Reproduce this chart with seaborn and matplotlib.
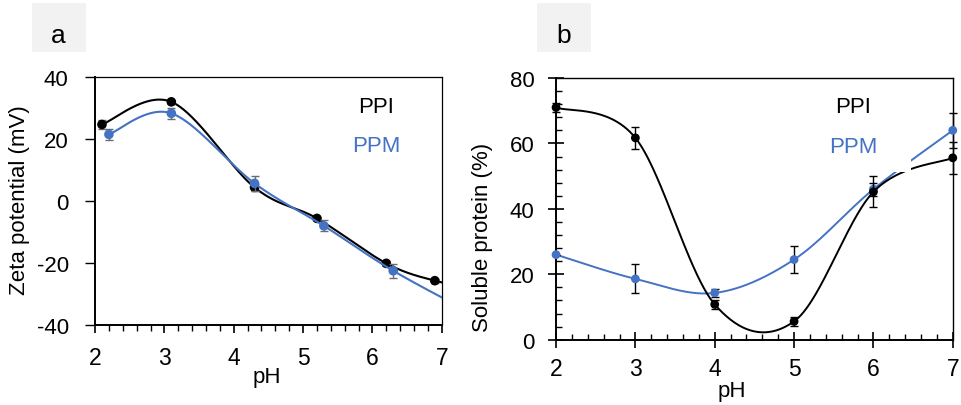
import numpy as np
import pandas as pd
import matplotlib
matplotlib.use("Agg")
import matplotlib.pyplot as plt
import seaborn as sns
from matplotlib.ticker import MultipleLocator
from matplotlib.patches import Rectangle

sns.set_theme(style="ticks")
plt.rcParams['font.family'] = ['Liberation Sans', 'DejaVu Sans']
plt.rcParams['axes.unicode_minus'] = False
plt.rcParams['text.color'] = 'black'
plt.rcParams['axes.labelcolor'] = 'black'
plt.rcParams['xtick.color'] = 'black'
plt.rcParams['ytick.color'] = 'black'
plt.rcParams['xtick.labelcolor'] = 'black'
plt.rcParams['ytick.labelcolor'] = 'black'

# ---------------- data ----------------
# Panel a: zeta potential vs pH
ph_ppi_a = [2.1, 3.1, 4.3, 5.2, 6.2, 6.9]
zeta_ppi = [24.7, 32.0, 4.4, -5.6, -20.1, -25.7]
zeta_ppi_err = [1.6, 0.7, 1.2, 0.6, 0.7, 0.6]
ph_ppm_a = [2.2, 3.1, 4.3, 5.3, 6.3]
zeta_ppm = [21.5, 28.3, 5.7, -8.0, -22.5]
zeta_ppm_err = [1.7, 1.8, 2.5, 1.8, 2.3]
# next measured points beyond the axis range (curve continues, clipped)
ph_ppi_a_next = [7.5]
zeta_ppi_next = [-28.0]
ph_ppm_a_next = [7.5]
zeta_ppm_next = [-37.0]

# Panel b: soluble protein vs pH
ph_b = [2, 3, 4, 5, 6, 7]
sol_ppi = [71.0, 61.7, 10.8, 5.6, 45.2, 55.6]
sol_ppi_err = [1.5, 3.4, 1.3, 1.4, 4.7, 4.9]
sol_ppm = [26.0, 18.6, 14.3, 24.5, 46.0, 64.0]
sol_ppm_err = [0.0, 4.4, 1.1, 4.2, 2.0, 5.4]

xticks = [2, 3, 4, 5, 6, 7]
yticks_a = [-40, -20, 0, 20, 40]
yticks_b = [0, 20, 40, 60, 80]

BLACK = "#000000"
BLUE = "#4472C4"
ERR_A = "#6b6b6b"


def excel_smooth(x, y, n=60):
    """Excel-style smoothed line (cubic Bezier, Catmull-Rom control points)."""
    P = np.column_stack([x, y]).astype(float)
    Pm = np.vstack([P[0], P, P[-1]])
    t = np.linspace(0, 1, n)[1:, None]
    out = [P[:1]]
    for i in range(len(P) - 1):
        p0, p3 = P[i], P[i + 1]
        c1 = p0 + (Pm[i + 2] - Pm[i]) / 6
        c2 = p3 - (Pm[i + 3] - Pm[i + 1]) / 6
        seg = (1 - t) ** 3 * p0 + 3 * (1 - t) ** 2 * t * c1 + 3 * (1 - t) * t ** 2 * c2 + t ** 3 * p3
        out.append(seg)
    arr = np.vstack(out)
    return pd.DataFrame({"pH": arr[:, 0], "v": arr[:, 1]})


fig = plt.figure(figsize=(9.62, 4.06), dpi=100)
axa = fig.add_axes([0.0988, 0.197, 0.3604, 0.6108])
axb = fig.add_axes([0.578, 0.1608, 0.4124, 0.6446])

# ---------------- panel a ----------------
df_ppi_a = excel_smooth(ph_ppi_a + ph_ppi_a_next, zeta_ppi + zeta_ppi_next)
df_ppm_a = excel_smooth(ph_ppm_a + ph_ppm_a_next, zeta_ppm + zeta_ppm_next)
sns.lineplot(data=df_ppi_a, x="pH", y="v", sort=False, estimator=None,
             color=BLACK, lw=1.5, ax=axa, zorder=2)
axa.errorbar(ph_ppi_a, zeta_ppi, yerr=zeta_ppi_err, fmt="none", ecolor=ERR_A,
             elinewidth=1.0, capsize=3, capthick=1.0, zorder=3, clip_on=False)
sns.scatterplot(x=ph_ppi_a, y=zeta_ppi, color=BLACK, s=48, edgecolor="none",
                ax=axa, zorder=4, clip_on=False)
sns.lineplot(data=df_ppm_a, x="pH", y="v", sort=False, estimator=None,
             color=BLUE, lw=1.5, ax=axa, zorder=5)
axa.errorbar(ph_ppm_a, zeta_ppm, yerr=zeta_ppm_err, fmt="none", ecolor=ERR_A,
             elinewidth=1.0, capsize=3, capthick=1.0, zorder=6, clip_on=False)
sns.scatterplot(x=ph_ppm_a, y=zeta_ppm, color=BLUE, s=48, edgecolor="none",
                ax=axa, zorder=7, clip_on=False)

axa.set_xlim(2, 7)
axa.set_ylim(-40, 40)
axa.set_xticks(xticks)
axa.set_yticks(yticks_a)
axa.xaxis.set_minor_locator(MultipleLocator(0.2))
axa.tick_params(axis="x", which="major", direction="out", length=6, width=1.2,
                labelsize=16.5, pad=9)
axa.tick_params(axis="x", which="minor", direction="out", length=4, width=1.0)
axa.tick_params(axis="y", which="major", direction="out", length=7, width=1.0,
                labelsize=16, pad=12)
for s in axa.spines.values():
    s.set_color(BLACK)
    s.set_visible(True)
for s in ["left", "bottom"]:
    axa.spines[s].set_linewidth(1.4)
for s in ["top", "right"]:
    axa.spines[s].set_linewidth(0.9)

axa.set_xlabel("pH", fontsize=16)
axa.set_ylabel("Zeta potential (mV)", fontsize=16)
axa.xaxis.label.set(va="center")
axa.yaxis.label.set(va="center", rotation_mode="default")
axa.xaxis.set_label_coords(0.496, -0.208)
axa.yaxis.set_label_coords(-0.218, 0.508)

axa.text(0.81, 0.883, "PPI", transform=axa.transAxes, fontsize=16,
         color=BLACK, ha="center", va="center", zorder=10)
axa.text(0.81, 0.722, "PPM", transform=axa.transAxes, fontsize=16,
         color=BLUE, ha="center", va="center", zorder=10)

# ---------------- panel b ----------------
df_ppm_b = excel_smooth(ph_b, sol_ppm)
df_ppi_b = excel_smooth(ph_b, sol_ppi)
sns.lineplot(data=df_ppm_b, x="pH", y="v", sort=False, estimator=None,
             color=BLUE, lw=1.4, ax=axb, zorder=2)
axb.errorbar(ph_b, sol_ppm, yerr=sol_ppm_err, fmt="none", ecolor=BLACK,
             elinewidth=1.0, capsize=3, capthick=1.0, zorder=3, clip_on=False)
sns.scatterplot(x=ph_b, y=sol_ppm, color=BLUE, s=40, edgecolor="none",
                ax=axb, zorder=4, clip_on=False)
sns.lineplot(data=df_ppi_b, x="pH", y="v", sort=False, estimator=None,
             color=BLACK, lw=1.4, ax=axb, zorder=5)
axb.errorbar(ph_b, sol_ppi, yerr=sol_ppi_err, fmt="none", ecolor=BLACK,
             elinewidth=1.0, capsize=3, capthick=1.0, zorder=6, clip_on=False)
sns.scatterplot(x=ph_b, y=sol_ppi, color=BLACK, s=40, edgecolor="none",
                ax=axb, zorder=7, clip_on=False)

# white background of the text box (hides a bit of the curves)
axb.add_patch(Rectangle((0.60, 0.64), 0.295, 0.33, transform=axb.transAxes,
                        facecolor="white", edgecolor="none", zorder=8))

axb.set_xlim(2, 7)
axb.set_ylim(0, 80)
axb.set_xticks(xticks)
axb.set_yticks(yticks_b)
axb.xaxis.set_minor_locator(MultipleLocator(0.2))
axb.yaxis.set_minor_locator(MultipleLocator(4))
axb.tick_params(axis="both", which="major", direction="inout", length=11, width=1.2)
axb.tick_params(axis="both", which="minor", direction="in", length=4.5, width=1.0)
axb.tick_params(axis="x", which="major", labelsize=16.5, pad=7)
axb.tick_params(axis="y", which="major", labelsize=16, pad=10)
for s in axb.spines.values():
    s.set_color(BLACK)
    s.set_linewidth(1.0)
    s.set_visible(True)
axb.spines["left"].set_linewidth(1.4)
axb.spines["bottom"].set_linewidth(1.4)

axb.set_xlabel("pH", fontsize=16)
axb.set_ylabel("Soluble protein (%)", fontsize=16)
axb.xaxis.label.set(va="center")
axb.yaxis.label.set(va="center", rotation_mode="default")
axb.xaxis.set_label_coords(0.4437, -0.194)
axb.yaxis.set_label_coords(-0.1865, 0.396)

axb.text(0.749, 0.893, "PPI", transform=axb.transAxes, fontsize=16,
         color=BLACK, ha="center", va="center", zorder=10)
axb.text(0.749, 0.740, "PPM", transform=axb.transAxes, fontsize=16,
         color=BLUE, ha="center", va="center", zorder=10)

# ---------------- panel letters ----------------
for x0, cx, letter in [(0.0333, 0.0603, "a"), (0.5582, 0.5863, "b")]:
    fig.add_artist(Rectangle((x0, 0.8695), 0.0561, 0.1207, transform=fig.transFigure,
                             facecolor="#f2f2f2", edgecolor="none"))
    fig.text(cx, 0.894, letter, fontsize=19, ha="center", va="baseline", color=BLACK)

fig.savefig("out.png", dpi=100)
